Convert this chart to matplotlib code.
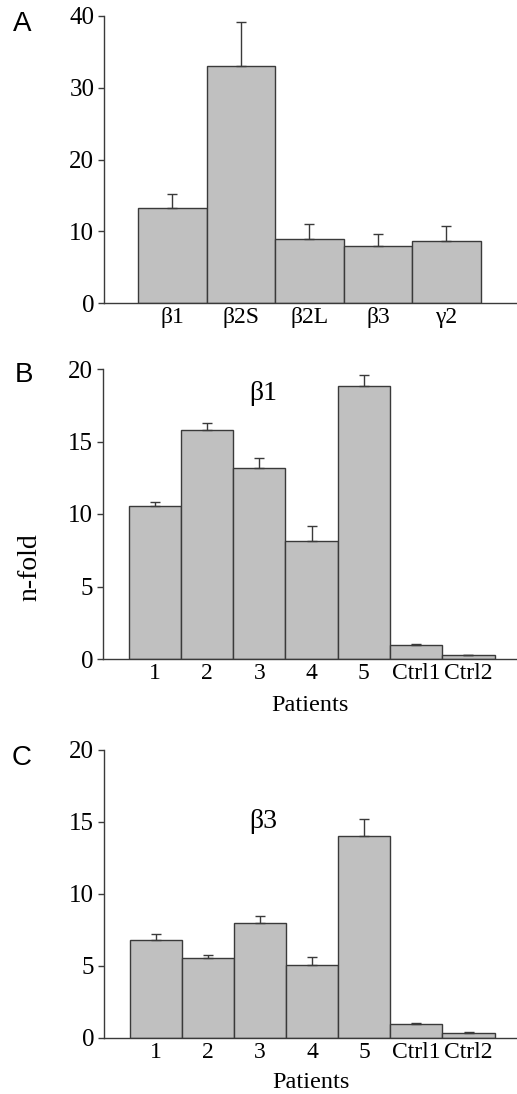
import matplotlib
matplotlib.use("Agg")
import matplotlib.pyplot as plt

# ---- data ----
a_labels = ["β1", "β2S", "β2L", "β3", "γ2"]
a_values = [13.3, 33.1, 8.9, 7.9, 8.7]
a_errors = [1.9, 6.1, 2.1, 1.7, 2.1]

patient_labels = ["1", "2", "3", "4", "5", "Ctrl1", "Ctrl2"]
b_values = [10.58, 15.8, 13.17, 8.13, 18.82, 0.98, 0.27]
b_errors = [0.25, 0.5, 0.7, 1.05, 0.8, 0.05, 0.02]
c_values = [6.8, 5.59, 7.97, 5.04, 14.03, 0.99, 0.37]
c_errors = [0.4, 0.18, 0.5, 0.6, 1.2, 0.06, 0.04]

W, H = 517, 1094
fig = plt.figure(figsize=(W / 100, H / 100), dpi=100)

serif = ["Liberation Serif", "DejaVu Serif"]
sans = ["Liberation Sans", "DejaVu Sans"]
bar_face = "#c0c0c0"
edge = "#3a3a3a"


def ax_at(left, top, right, bottom):
    return fig.add_axes([left / W, 1 - bottom / H, (right - left) / W, (bottom - top) / H])


def style(ax, ymax, step, labels, xlim):
    for s in ["top", "right"]:
        ax.spines[s].set_visible(False)
    for s in ["left", "bottom"]:
        ax.spines[s].set_color(edge)
        ax.spines[s].set_linewidth(1.0)
    ax.set_ylim(0, ymax)
    ax.set_yticks(range(0, ymax + 1, step))
    ax.set_xlim(*xlim)
    ax.set_xticks(range(len(labels)))
    ax.set_xticklabels(labels, fontfamily=serif, fontsize=17)
    for t in ax.get_yticklabels():
        t.set_fontfamily(serif)
        t.set_fontsize(18)
    ax.tick_params(axis="x", length=0, pad=3)
    ax.tick_params(axis="y", length=4, width=1, color=edge, pad=3)


def bars(ax, values, errors):
    x = range(len(values))
    ax.bar(x, values, width=1.0, color=bar_face, edgecolor=edge, linewidth=1.0, zorder=2)
    ax.errorbar(x, values, yerr=[[0] * len(values), errors], fmt="none",
                ecolor=edge, elinewidth=1.0, capsize=3.5, capthick=1.0, zorder=3)


# Panel A
axA = ax_at(104, 16, 517, 303)
bars(axA, a_values, a_errors)
style(axA, 40, 10, a_labels, (-1.0, 5.03))

# Panel B
axB = ax_at(103, 369, 517, 659)
bars(axB, b_values, b_errors)
style(axB, 20, 5, patient_labels, (-0.99, 6.93))
axB.text(2.07, 18.3, "β1", ha="center", va="center", fontfamily=serif, fontsize=20)
axB.set_xlabel("Patients", fontfamily=serif, fontsize=17.5, labelpad=8)

# Panel C
axC = ax_at(104, 750, 517, 1038)
bars(axC, c_values, c_errors)
style(axC, 20, 5, patient_labels, (-0.99, 6.93))
axC.text(2.07, 15.0, "β3", ha="center", va="center", fontfamily=serif, fontsize=20)
axC.set_xlabel("Patients", fontfamily=serif, fontsize=17.5, labelpad=6)

# panel letters and shared label
fig.text(22 / W, 1 - 24 / H, "A", ha="center", va="center", fontfamily=sans, fontsize=20)
fig.text(24 / W, 1 - 375 / H, "B", ha="center", va="center", fontfamily=sans, fontsize=20)
fig.text(22 / W, 1 - 758 / H, "C", ha="center", va="center", fontfamily=sans, fontsize=20)
fig.text(30 / W, 1 - 567 / H, "n-fold", ha="center", va="center", rotation=90,
         fontfamily=serif, fontsize=20)

fig.savefig("out.png", dpi=100)
